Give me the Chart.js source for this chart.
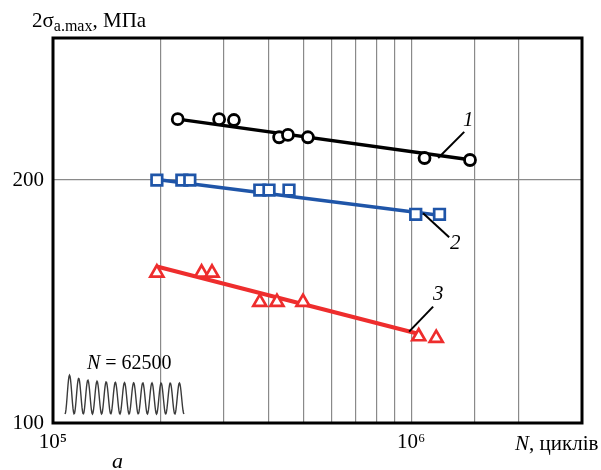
<!DOCTYPE html>
<html>
<head>
<meta charset="utf-8">
<script src="https://cdn.jsdelivr.net/npm/chart.js@4/dist/chart.umd.min.js"></script>
<style>
  body { margin: 0; background: #fff; }
  #wrap { width: 601px; height: 470px; }
</style>
</head>
<body>
<div id="wrap"><canvas id="fatigue" width="601" height="470"></canvas></div>
<script>
// Крива 1 (кола)
const cyclesS1 = [2.23e5, 2.91e5, 3.20e5, 4.28e5, 4.53e5, 5.15e5, 1.09e6, 1.46e6];
const stressS1 = [238, 238, 237.4, 226, 227.5, 226, 213, 211.8];
// Крива 2 (квадрати)
const cyclesS2 = [1.95e5, 2.29e5, 2.41e5, 3.78e5, 4.01e5, 4.56e5, 1.03e6, 1.20e6];
const stressS2 = [200, 200, 200, 194.4, 194.4, 194.4, 181.4, 181.4];
// Крива 3 (трикутники)
const cyclesS3 = [1.95e5, 2.60e5, 2.78e5, 3.78e5, 4.22e5, 4.99e5, 1.05e6, 1.175e6];
const stressS3 = [153.5, 153.5, 153.5, 141.2, 141.2, 141.2, 128.0, 127.4];

// лінії апроксимації
const fitN1 = [2.23e5, 1.46e6], fitS1 = [238, 212];
const fitN2 = [1.95e5, 1.197e6], fitS2 = [200.3, 180.9];
const fitN3 = [1.95e5, 1.046e6], fitS3 = [156.3, 129.0];

// виноски
const leadN1 = [1.407e6, 1.19e6], leadS1 = [229.5, 213];
const leadN2 = [1.08e6, 1.277e6], leadS2 = [182, 169.9];
const leadN3 = [1.152e6, 9.87e5], leadS3 = [139.4, 129.8];
const curveNames = ['1', '2', '3'];
const nameN = [1.443e6, 1.328e6, 1.19e6];
const nameS = [237.4, 167, 144.3];

const yTicks = [100, 200, 300];
const xTickText = { 100000: '10⁵', 1000000: '10⁶' };
const yTickText = { 100: '100', 200: '200' };

const serif = '"Liberation Serif", "Times New Roman", serif';

function pts(xs, ys) {
    return xs.map((x, i) => ({ x: x, y: ys[i] }));
}

function fitLine(xs, ys, color, width) {
    return { data: pts(xs, ys), showLine: true, borderColor: color, borderWidth: width,
             pointRadius: 0, order: 2 };
}

const decor = {
    id: 'decor',
    afterDatasetsDraw(chart) {
        const ctx = chart.ctx;
        const ca = chart.chartArea;
        const xs = chart.scales.x, ys = chart.scales.y;
        ctx.save();

        // рамка
        ctx.strokeStyle = '#000';
        ctx.lineWidth = 3;
        ctx.strokeRect(ca.left, ca.top, ca.right - ca.left, ca.bottom - ca.top);

        ctx.fillStyle = '#000';
        ctx.textBaseline = 'alphabetic';
        ctx.textAlign = 'left';

        // підпис осі Y
        let x = 32;
        ctx.font = '21px ' + serif;
        ctx.fillText('2σ', x, 27);
        x += ctx.measureText('2σ').width;
        ctx.font = '16px ' + serif;
        ctx.fillText('a.max', x, 31);
        x += ctx.measureText('a.max').width;
        ctx.font = '21px ' + serif;
        ctx.fillText(', МПа', x, 27);

        // підпис осі X
        x = 515;
        ctx.font = 'italic 21px ' + serif;
        ctx.fillText('N', x, 450);
        x += ctx.measureText('N').width;
        ctx.font = '21px ' + serif;
        ctx.fillText(', циклів', x, 450);

        // літера рисунка
        ctx.font = 'italic 22px ' + serif;
        ctx.fillText('a', 112, 468);

        // вставка з навантаженням
        x = 87;
        ctx.font = 'italic 20px ' + serif;
        ctx.fillText('N', x, 369);
        x += ctx.measureText('N').width;
        ctx.font = '20px ' + serif;
        ctx.fillText(' = 62500', x, 369);

        const w0 = ca.left + 12, w1 = ca.left + 131, base = ca.bottom - 9;
        const period = (w1 - w0) / 13;
        ctx.strokeStyle = '#3a3a3a';
        ctx.lineWidth = 1.4;
        ctx.beginPath();
        for (let px = w0; px <= w1; px += 0.5) {
            const ph = (px - w0) / period;
            const amp = 31 + 10 * Math.exp(-ph / 2);
            const py = base - amp * (1 - Math.cos(2 * Math.PI * ph)) / 2;
            if (px === w0) ctx.moveTo(px, py); else ctx.lineTo(px, py);
        }
        ctx.stroke();

        // номери кривих
        ctx.font = 'italic 21px ' + serif;
        ctx.textAlign = 'center';
        ctx.textBaseline = 'middle';
        curveNames.forEach((t, i) => {
            ctx.fillText(t, xs.getPixelForValue(nameN[i]), ys.getPixelForValue(nameS[i]));
        });
        ctx.restore();
    }
};

const ctx = document.getElementById('fatigue');
const chart = new Chart(ctx, {
    type: 'scatter',
    data: {
        datasets: [
            { data: pts(cyclesS1, stressS1), pointStyle: 'circle', pointRadius: 5.5, pointBorderWidth: 2.8,
              borderColor: '#000', backgroundColor: '#fff', order: 1 },
            { data: pts(cyclesS2, stressS2), pointStyle: 'rect', pointRadius: 7.5, pointBorderWidth: 2.7,
              borderColor: '#1f55a8', backgroundColor: '#fff', order: 1 },
            { data: pts(cyclesS3, stressS3), pointStyle: 'triangle', pointRadius: 7.5, pointBorderWidth: 2.7,
              borderColor: '#ee2d2d', backgroundColor: '#fff', order: 1 },
            fitLine(fitN1, fitS1, '#000', 3.5),
            fitLine(fitN2, fitS2, '#1f55a8', 3.5),
            fitLine(fitN3, fitS3, '#ee2d2d', 4),
            { data: pts(leadN1, leadS1), showLine: true, borderColor: '#000', borderWidth: 2, pointRadius: 0, order: 0 },
            { data: pts(leadN2, leadS2), showLine: true, borderColor: '#000', borderWidth: 2, pointRadius: 0, order: 0 },
            { data: pts(leadN3, leadS3), showLine: true, borderColor: '#000', borderWidth: 2, pointRadius: 0, order: 0 }
        ]
    },
    options: {
        responsive: false,
        animation: false,
        layout: { padding: { left: 0, top: 38, right: 19, bottom: 0 } },
        plugins: {
            legend: { display: false },
            tooltip: { enabled: false }
        },
        scales: {
            x: {
                type: 'logarithmic',
                min: 1e5,
                max: 3e6,
                afterFit: (s) => { s.height = 47; },
                grid: { color: '#8a8a8a', lineWidth: 1.2, drawTicks: false },
                border: { display: false },
                ticks: {
                    autoSkip: false,
                    maxRotation: 0,
                    padding: 7,
                    color: '#000',
                    font: { family: serif, size: 21 },
                    callback: (v) => xTickText[Math.round(v)] || ''
                }
            },
            y: {
                type: 'logarithmic',
                min: 100,
                max: 300,
                afterBuildTicks: (s) => { s.ticks = yTicks.map((v) => ({ value: v })); },
                afterFit: (s) => { s.width = 53; },
                grid: { color: '#8a8a8a', lineWidth: 1.2, drawTicks: false },
                border: { display: false },
                ticks: {
                    autoSkip: false,
                    padding: 9,
                    color: '#000',
                    font: { family: serif, size: 21 },
                    callback: (v) => yTickText[Math.round(v)] || ''
                }
            }
        }
    },
    plugins: [decor]
});
</script>
</body>
</html>
